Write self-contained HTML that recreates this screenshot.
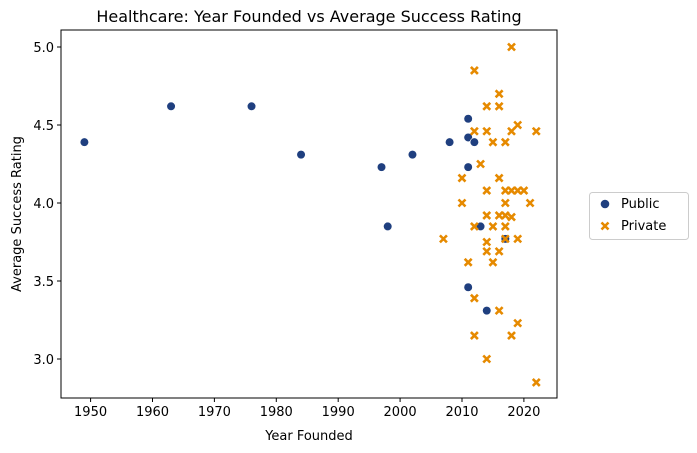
<!DOCTYPE html>
<html><head><meta charset="utf-8"><style>
body{margin:0;background:#fff;font-family:"DejaVu Sans","Liberation Sans",sans-serif}
</style></head><body>
<svg id="c" width="697" height="453" style="display:block;font-family:'DejaVu Sans','Liberation Sans',sans-serif"></svg>
<script>
const publicYears=[1949,1963,1976,1984,1997,1998,2002,2008,2011,2011,2012,2011,2013,2011,2014,2017];
const publicRatings=[4.39,4.62,4.62,4.31,4.23,3.85,4.31,4.39,4.54,4.42,4.39,4.23,3.85,3.46,3.31,3.77];
const privateYears=[2018,2012,2016,2014,2016,2012,2014,2018,2019,2022,2015,2017,2013,2010,2016,2014,2017,2018,2019,2020,2010,2017,2021,2014,2016,2017,2018,2012,2015,2017,2007,2014,2017,2019,2014,2016,2011,2015,2012,2016,2019,2012,2018,2014,2022];
const privateRatings=[5.0,4.85,4.70,4.62,4.62,4.46,4.46,4.46,4.50,4.46,4.39,4.39,4.25,4.16,4.16,4.08,4.08,4.08,4.08,4.08,4.00,4.00,4.00,3.92,3.92,3.92,3.91,3.85,3.85,3.85,3.77,3.75,3.77,3.77,3.69,3.69,3.62,3.62,3.39,3.31,3.23,3.15,3.15,3.00,2.85];
const xTicks=[1950,1960,1970,1980,1990,2000,2010,2020];
const yTicks=[3.0,3.5,4.0,4.5,5.0];
const L=61,R=557,T=30,B=398;
const x=v=>84.4+(v-1949)*6.19;
const y=v=>47+(5-v)*156;
const svg=document.getElementById('c');
const NS='http://www.w3.org/2000/svg';
function mk(t,a,p){const e=document.createElementNS(NS,t);for(const k in a)e.setAttribute(k,a[k]);(p||svg).appendChild(e);return e;}
const title=mk('text',{x:309,y:22,'text-anchor':'middle','font-size':16,fill:'#000'});title.textContent='Healthcare: Year Founded vs Average Success Rating';


xTicks.forEach(t=>{const X=x(t);
 const l=mk('line',{x1:X,x2:X,y1:B,y2:B+4,stroke:'#000'});
 
 
 const tx=mk('text',{x:X,y:B+18,'text-anchor':'middle','font-size':13});tx.textContent=t;
 
 });
yTicks.forEach(t=>{const Y=y(t);
 const l=mk('line',{x1:L-4,x2:L,y1:Y,y2:Y,stroke:'#000'});
 
 
 const tx=mk('text',{x:L-7,y:Y+5,'text-anchor':'end','font-size':13});tx.textContent=t.toFixed(1);
 
 });
const xt=mk('text',{x:309,y:440,'text-anchor':'middle','font-size':13});xt.textContent='Year Founded';


const yt=mk('text',{x:21,y:214,'text-anchor':'middle','font-size':13,transform:'rotate(-90 21 214)'});yt.textContent='Average Success Rating';


function cross(cx,cy,n){const d=`M${cx-3.5},${cy-3.5}L${cx+3.5},${cy+3.5}M${cx-3.5},${cy+3.5}L${cx+3.5},${cy-3.5}`;
 const p=mk('path',{d:d,stroke:'#e68a00','stroke-width':2.6,fill:'none'});
 
 }
function dot(cx,cy,n){const c=mk('circle',{cx:cx,cy:cy,r:4.3,fill:'#1f3f7f',stroke:'#fff','stroke-width':0.6});
 
 }
publicYears.forEach((v,i)=>dot(x(v),y(publicRatings[i]),'public-point'));
privateYears.forEach((v,i)=>cross(x(v),y(privateRatings[i]),'private-point'));
const fr=mk('rect',{x:L,y:T,width:R-L,height:B-T,fill:'none',stroke:'#000','stroke-width':1});


const lg=mk('g',{});


mk('rect',{x:589.5,y:192.5,width:99,height:47,rx:3,fill:'#fff',stroke:'#ccc'},lg);
const c1=mk('circle',{cx:605,cy:204,r:4.3,fill:'#1f3f7f'},lg);


const t1=mk('text',{x:621,y:208,'font-size':13},lg);t1.textContent='Public';


const p2=mk('path',{d:'M601.5,222.5L608.5,229.5M601.5,229.5L608.5,222.5',stroke:'#e68a00','stroke-width':2.6},lg);


const t2=mk('text',{x:621,y:230,'font-size':13},lg);t2.textContent='Private';


</script>
</body></html>
